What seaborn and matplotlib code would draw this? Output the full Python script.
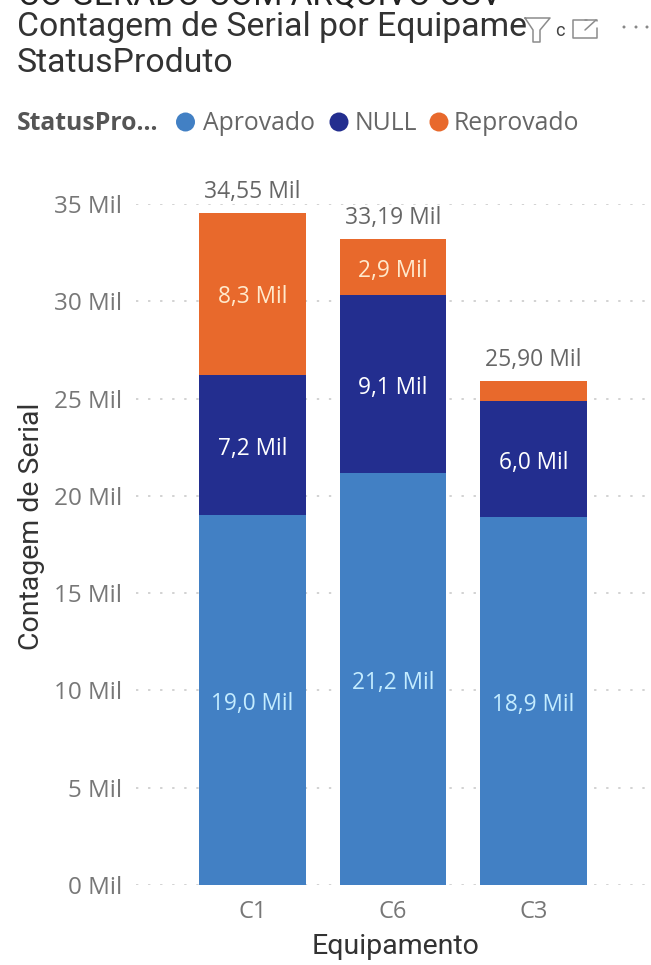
import matplotlib
matplotlib.use("Agg")
import matplotlib.pyplot as plt
import seaborn as sns
import pandas as pd
from matplotlib.patches import Circle
from matplotlib.lines import Line2D

equip = ["C1", "C6", "C3"]
aprovado = [19.0, 21.2, 18.9]
nulos = [7.2, 9.1, 6.0]
reprovado = [8.35, 2.89, 1.0]
labels_a = ["19,0 Mil", "21,2 Mil", "18,9 Mil"]
labels_n = ["7,2 Mil", "9,1 Mil", "6,0 Mil"]
labels_r = ["8,3 Mil", "2,9 Mil", ""]
totais = ["34,55 Mil", "33,19 Mil", "25,90 Mil"]
yticks = [0, 5, 10, 15, 20, 25, 30, 35]

C_A, C_N, C_R = "#4280c4", "#232e8f", "#e8692c"
W, H = 651, 965
sns.set_theme(style="white")
plt.rcParams['font.family'] = ['Open Sans', 'DejaVu Sans']
fig = plt.figure(figsize=(W/100, H/100), dpi=100)
ax = fig.add_axes([136/W, 1-885/H, (W-136)/W, (885-204)/H])
df = pd.DataFrame({"e": equip, "a": aprovado, "n": nulos, "r": reprovado})
df["an"] = df.a + df.n
df["t"] = df.an + df.r
w = 0.76
for col, c, z in [("t", C_R, 2), ("an", C_N, 3), ("a", C_A, 4)]:
    sns.barplot(df, x="e", y=col, color=c, saturation=1, width=w, ax=ax, zorder=z, linewidth=0, edgecolor="none")
ax.set_xlim(-0.829, 2.836)
ax.set_ylim(0, 35)
ax.set_yticks(yticks)
ax.set_yticklabels([f"{v} Mil" for v in yticks], color="#777777", fontsize=17.5)
ax.tick_params(axis="y", length=0, pad=10)
ax.tick_params(axis="x", length=0, pad=11, labelsize=17, labelcolor="#777777")
ax.yaxis.grid(True, color="#d2d2d2", linestyle=(0, (1.2, 5)), lw=1.4)
ax.xaxis.grid(False)
ax.set_axisbelow(True)
for s in ax.spines.values():
    s.set_visible(False)
ax.set_xlabel("")
ax.set_ylabel("")
for i in range(3):
    ax.annotate(labels_a[i], (i, df.a[i]/2), xytext=(0, -3), textcoords="offset points", color="#c4ecff", ha="center", va="center", fontsize=16.3, zorder=5)
    ax.annotate(labels_n[i], (i, df.a[i]+df.n[i]/2), xytext=(0, -3), textcoords="offset points", color="white", ha="center", va="center", fontsize=16.3, zorder=5)
    if labels_r[i]:
        ax.annotate(labels_r[i], (i, df.an[i]+df.r[i]/2), xytext=(0, -2.5), textcoords="offset points", color="#ffe9cc", ha="center", va="center", fontsize=16.3, zorder=5)
    ax.annotate(totais[i], (i, df.t[i]), xytext=(0, 6.5), textcoords="offset points", color="#666666", ha="center", va="bottom", fontsize=16.5, annotation_clip=False, zorder=5)

def T(x, y, s, **k):
    return fig.text(x/W, 1-y/H, s, **k)

T(396, 946, "Equipamento", fontsize=20.5, color="#333333", ha="center", va="center", family="Roboto")
T(32, 526, "Contagem de Serial", fontsize=20.5, color="#333333", ha="center", va="center", rotation=90, family="Roboto")

# cropped line above the visual, title, and the hover toolbar
T(18, 4, "CO GERADO COM ARQUIVO CSV", fontsize=24, color="#222222", va="baseline", family="Roboto")
T(17, 36, "Contagem de Serial por Equipame", fontsize=24.3, color="#333333", va="baseline", family="Roboto")
T(17, 72, "StatusProduto", fontsize=24.3, color="#333333", va="baseline", family="Roboto")
T(555, 36, "c", fontsize=13, color="#444444", va="baseline", family="Roboto")
ic = dict(color="#8c8c8c", lw=1.1, zorder=3, transform=fig.transFigure)
fx = [525, 550, 540, 540, 533, 533, 525]
fy = [18, 18, 30, 42, 42, 30, 18]
fig.add_artist(Line2D([x/W for x in fx], [1-y/H for y in fy], **ic))
bx = [587, 573, 573, 597, 597]
by = [20, 20, 38, 38, 28]
fig.add_artist(Line2D([x/W for x in bx], [1-y/H for y in by], **ic))
fig.add_artist(Line2D([585/W, 597/W, 597/W], [1-20/H, 1-20/H, 1-21/H], **ic))
fig.add_artist(Line2D([585/W, 596/W], [1-30/H, 1-20/H], **ic))
for x in (624, 636, 647):
    fig.add_artist(Circle((x, H-27), 1.5, transform=None, fc="#888888", ec="none", zorder=3))

# legend
T(17, 130, "StatusPro...", fontsize=17.8, fontweight="bold", color="#555555", va="baseline")
for cx, tx, c, t in [(185.5, 203, C_A, "Aprovado"), (339, 355, C_N, "NULL"), (439, 454, C_R, "Reprovado")]:
    fig.add_artist(Circle((cx, H-122), 9.5, transform=None, fc=c, ec="none", zorder=3))
    T(tx, 130, t, fontsize=17.8, color="#666666", va="baseline")
fig.savefig("out.png", dpi=100)
